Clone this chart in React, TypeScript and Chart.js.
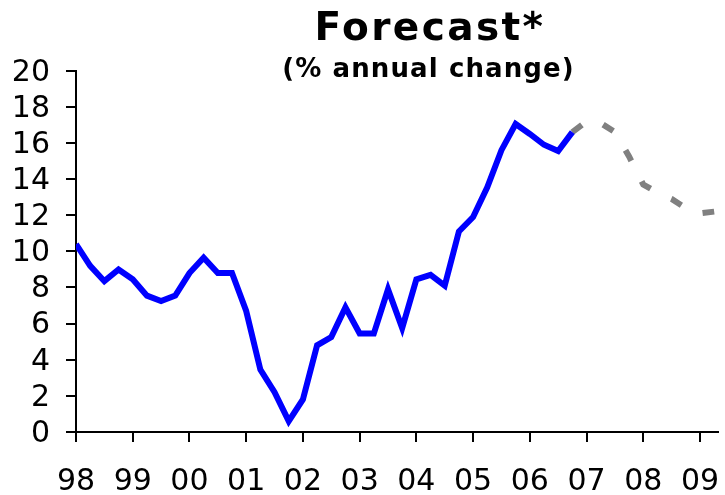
import React, { useEffect, useRef } from 'react';
import { Chart, registerables } from 'chart.js';

Chart.register(...registerables);

const FONT = "'DejaVu Sans', Verdana, sans-serif";
const TITLE = 'Forecast*';
const SUBTITLE = '(% annual change)';

// Year tick labels, one every 4 quarters starting at 1998 Q1
const yearLabels = ['98', '99', '00', '01', '02', '03', '04', '05', '06', '07', '08', '09'];

// Quarterly actual values (% annual change), 1998 Q1 .. 2006 Q4
const actualValues = [
  10.4, 9.2, 8.35, 9.0, 8.45, 7.55, 7.25, 7.55, 8.8, 9.65, 8.8, 8.8,
  6.7, 3.45, 2.2, 0.6, 1.8, 4.8, 5.25, 6.9, 5.45, 5.45, 7.9, 5.75,
  8.45, 8.7, 8.1, 11.1, 11.9, 13.55, 15.6, 17.05, 16.5, 15.9, 15.55, 16.6,
];

// Forecast values, quarterly, starting at the last actual quarter
const forecastStartQuarter = 35;
const forecastValues = [16.6, 17.2, 17.1, 16.6, 15.25, 13.7, 13.25, 12.9, 12.4, 12.1, 12.2];

const xMaxQuarter = 45.27;

export default function App() {
  const canvasRef = useRef<HTMLCanvasElement | null>(null);

  useEffect(() => {
    const canvas = canvasRef.current;
    if (!canvas) return;

    const titleSpacing = {
      id: 'titleSpacing',
      beforeDraw(chart: any) {
        chart.boxes.forEach((box: any) => {
          const t = box.options && box.options.text;
          if (typeof t !== 'string' || box.__patched) return;
          const cfg = t === TITLE ? { ls: 2.4, dx: 71 } : { ls: 1.1, dx: 69.5 };
          const orig = box.draw.bind(box);
          box.draw = (area: any) => {
            const ctx = chart.ctx;
            ctx.save();
            (ctx as any).letterSpacing = cfg.ls + 'px';
            ctx.translate(cfg.dx, 0);
            orig(area);
            ctx.restore();
          };
          box.__patched = true;
        });
      },
    };

    const axisGrid = {
      drawOnChartArea: false,
      drawTicks: true,
      tickLength: 10,
      color: '#000000',
      lineWidth: 2,
    };
    const axisBorder = { display: true, color: '#000000', width: 2 };

    const chart = new Chart(canvas, {
      type: 'line',
      data: {
        datasets: [
          {
            label: 'Actual',
            data: actualValues.map((v, i) => ({ x: i, y: v })),
            borderColor: '#0000FF',
            borderWidth: 6,
            pointRadius: 0,
            tension: 0,
            fill: false,
          },
          {
            label: 'Forecast',
            data: forecastValues.map((v, i) => ({ x: forecastStartQuarter + i, y: v })),
            borderColor: '#808080',
            borderWidth: 6,
            borderDash: [12, 23],
            borderCapStyle: 'butt',
            pointRadius: 0,
            tension: 0,
            fill: false,
          },
        ],
      },
      options: {
        animation: false,
        responsive: false,
        maintainAspectRatio: false,
        layout: { padding: { left: 0, right: 7, top: 0, bottom: 0 } },
        plugins: {
          legend: { display: false },
          tooltip: { enabled: false },
          title: {
            display: true,
            text: TITLE,
            color: '#000000',
            font: { family: FONT, size: 39, weight: 'bold', lineHeight: 1.51 },
            padding: { top: 0, bottom: 0 },
          },
          subtitle: {
            display: true,
            text: SUBTITLE,
            color: '#000000',
            font: { family: FONT, size: 26, weight: 'bold', lineHeight: 0.02 },
            padding: { top: 11.3, bottom: 0 },
          },
        },
        scales: {
          x: {
            type: 'linear',
            min: 0,
            max: xMaxQuarter,
            afterBuildTicks: (scale: any) => {
              scale.ticks = yearLabels.map((_, i) => ({ value: i * 4 }));
            },
            afterFit: (scale: any) => {
              scale.height = 63;
              scale.paddingLeft = 0;
              scale.paddingRight = 0;
            },
            ticks: {
              autoSkip: false,
              maxRotation: 0,
              color: '#000000',
              font: { family: FONT, size: 30 },
              padding: 22,
              callback: (value: any) => yearLabels[Math.round(Number(value) / 4)],
            },
            grid: axisGrid,
            border: axisBorder,
          },
          y: {
            min: 0,
            max: 20,
            afterFit: (scale: any) => {
              scale.width = 76;
            },
            ticks: {
              stepSize: 2,
              autoSkip: false,
              color: '#000000',
              font: { family: FONT, size: 30 },
              padding: 16,
              labelOffset: 2,
            },
            grid: axisGrid,
            border: axisBorder,
          },
        },
      } as any,
      plugins: [titleSpacing],
    });

    return () => chart.destroy();
  }, []);

  return (
    <div style={{ position: 'absolute', left: 0, top: 0, width: 725, height: 495, background: '#ffffff' }}>
      <canvas ref={canvasRef} width={725} height={495} style={{ display: 'block' }} />
    </div>
  );
}
